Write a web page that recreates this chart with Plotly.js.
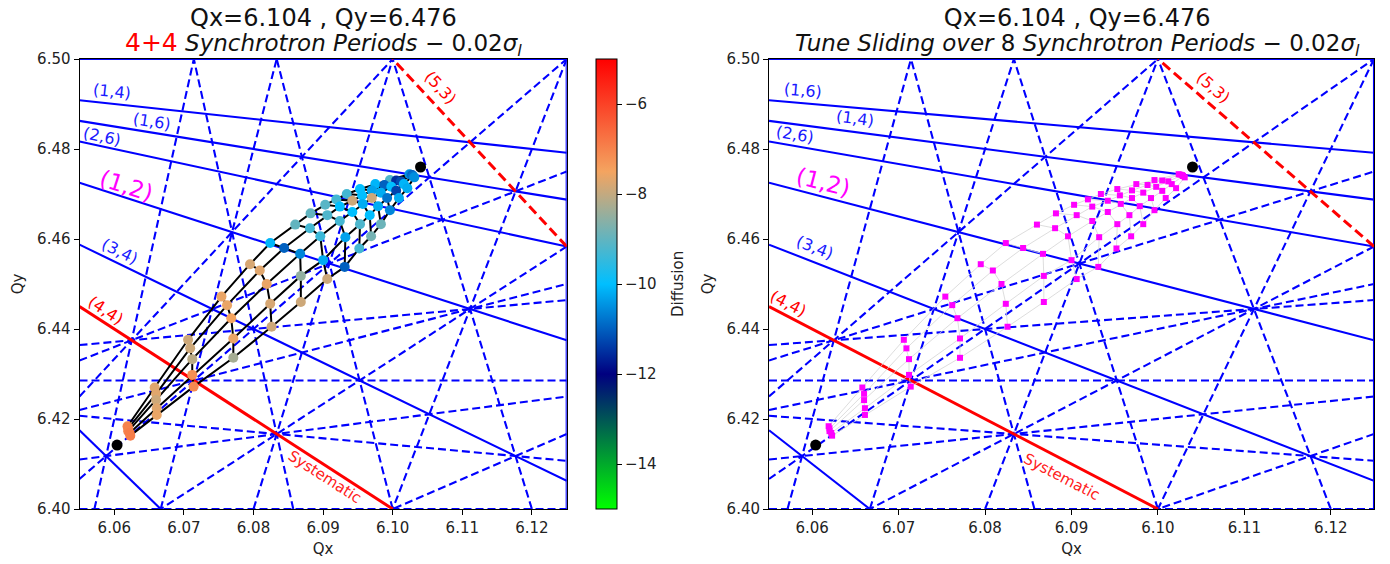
<!DOCTYPE html>
<html>
<head>
<meta charset="utf-8">
<script src="https://cdn.plot.ly/plotly-3.0.1.min.js"></script>
<style>html,body{margin:0;padding:0;background:#fff;}</style>
</head>
<body>
<div id="chart" style="width:1390px;height:564px;"></div>
<script>
// Tune-space window
const qxRange = [6.055, 6.125];
const qyRange = [6.40, 6.50];
const qxTicks = [6.06, 6.07, 6.08, 6.09, 6.10, 6.11, 6.12];
const qyTicks = [6.40, 6.42, 6.44, 6.46, 6.48, 6.50];

// Normal resonances m*Qx + n*Qy = p (solid blue)
const normalM = [1, 1, 2, 1, 3, 3, 0, 8];
const normalN = [6, 4, 6, 2, 4, 2, 2, 0];
const normalP = [45, 32, 51, 19, 44, 31, 13, 49];

// Skew resonances m*Qx + n*Qy = p (dashed blue)
const skewM = [-4, 5, -5, 6, -6, 7, -7, -2, -3, -4, -5, 0, -1, -2, -3, 0, 1, -1];
const skewN = [1, 1, 1, 1, 1, 1, 1, 3, 3, 3, 3, 5, 5, 5, 5, 7, 7, 7];
const skewP = [-18, 37, -24, 43, -30, 49, -36, 7, 1, -5, -11, 32, 26, 20, 14, 45, 51, 39];

// Highlighted resonances (red): systematic 4Qx+4Qy=50 and skew 5Qx+3Qy=50
const systematicMNP = [4, 4, 50];
const skew53MNP = [5, 3, 50];

// Working point and lower reference tune
const markQx = [6.104, 6.0604];
const markQy = [6.476, 6.4142];

// Tune footprint grid: one row per amplitude line, one column per step
const gridQx = [
  [6.0619, 6.0658, 6.0706, 6.0754, 6.0795, 6.0824, 6.0860, 6.0882, 6.0903, 6.0919, 6.0934, 6.0953, 6.0975, 6.0996, 6.1024],
  [6.0620, 6.0660, 6.0709, 6.0762, 6.0809, 6.0844, 6.0881, 6.0906, 6.0924, 6.0942, 6.0956, 6.0970, 6.0988, 6.1005, 6.1026],
  [6.0620, 6.0660, 6.0712, 6.0768, 6.0819, 6.0867, 6.0896, 6.0924, 6.0942, 6.0957, 6.0970, 6.0983, 6.0998, 6.1012, 6.1028],
  [6.0622, 6.0661, 6.0712, 6.0771, 6.0824, 6.0868, 6.0900, 6.0932, 6.0953, 6.0967, 6.0979, 6.0992, 6.1005, 6.1016, 6.1029],
  [6.0623, 6.0661, 6.0714, 6.0771, 6.0826, 6.0868, 6.0906, 6.0931, 6.0952, 6.0969, 6.0983, 6.0996, 6.1009, 6.1021, 6.1031]
];
const gridQy = [
  [6.4184, 6.4270, 6.4376, 6.4472, 6.4544, 6.4591, 6.4632, 6.4657, 6.4676, 6.4688, 6.4700, 6.4711, 6.4722, 6.4731, 6.4744],
  [6.4179, 6.4256, 6.4357, 6.4453, 6.4530, 6.4580, 6.4624, 6.4653, 6.4672, 6.4685, 6.4697, 6.4708, 6.4720, 6.4730, 6.4743],
  [6.4173, 6.4242, 6.4333, 6.4424, 6.4500, 6.4567, 6.4606, 6.4640, 6.4660, 6.4678, 6.4691, 6.4703, 6.4716, 6.4728, 6.4742],
  [6.4169, 6.4224, 6.4298, 6.4379, 6.4456, 6.4518, 6.4553, 6.4604, 6.4633, 6.4653, 6.4673, 6.4691, 6.4707, 6.4722, 6.4740],
  [6.4163, 6.4209, 6.4272, 6.4336, 6.4405, 6.4460, 6.4511, 6.4538, 6.4579, 6.4606, 6.4633, 6.4664, 6.4691, 6.4713, 6.4737]
];
const gridDiffusion = [
  [-7.0, -7.7, -7.9, -7.6, -7.8, -10.1, -9.0, -9.0, -9.1, -9.3, -9.3, -10.0, -10.1, -9.2, -10.4],
  [-7.0, -7.7, -7.9, -7.6, -7.7, -11.0, -9.3, -9.2, -10.0, -7.9, -10.0, -10.3, -11.0, -11.5, -10.6],
  [-7.0, -7.9, -8.1, -7.5, -7.6, -10.6, -9.4, -9.3, -10.0, -10.2, -7.9, -10.2, -10.0, -11.2, -11.0],
  [-6.9, -7.7, -7.2, -7.6, -7.8, -8.5, -10.2, -10.3, -9.2, -10.0, -10.2, -10.8, -11.3, -10.1, -10.8],
  [-6.9, -7.6, -7.1, -8.3, -7.9, -7.9, -7.9, -11.0, -9.3, -8.8, -8.9, -10.6, -10.2, -10.2, -10.5]
];

// Resonance line labels: text, anchor tune, colour, font size, slope of the line it follows
const labelText = ['(1,4)', '(1,6)', '(2,6)', '(1,2)', '(3,4)', '(4,4)', '(5,3)', 'Systematic'];
const labelColor = ['#1a1aff', '#1a1aff', '#1a1aff', '#ff00ff', '#1a1aff', '#ff0000', '#ff0000', '#ff2020'];
const labelSize = [16, 16, 16, 23, 16, 16, 16, 15];
const labelSlope = [1/6, 1/4, 1/3, 1/2, 3/4, 1, 5/3, 1];
const leftLabelQx = [6.05967, 6.06542, 6.05823, 6.06182, 6.06082, 6.05881, 6.10680, 6.09027];
const leftLabelQy = [6.49267, 6.48622, 6.48267, 6.47178, 6.45733, 6.44422, 6.49356, 6.40711];
const rightLabelText = ['(1,6)', '(1,4)', '(2,6)', '(1,2)', '(3,4)', '(4,4)', '(5,3)', 'Systematic'];
const rightLabelSlope = [1/6, 1/4, 1/3, 1/2, 3/4, 1, 5/3, 1];
const rightLabelQx = [6.05893, 6.06495, 6.05801, 6.06125, 6.06032, 6.05720, 6.10637, 6.08890];
const rightLabelQy = [6.49311, 6.48667, 6.48333, 6.47267, 6.45822, 6.44556, 6.49356, 6.40711];

// ---------- page geometry (pixels) ----------
const W = 1390, H = 564;
const plotTop = 59, plotBottom = 509;
const leftBox = [79.5, 566.7];
const rightBox = [769, 1374];
const fx = v => v / W;
const fy = v => 1 - v / H;

const FONT = 'DejaVu Sans, Verdana, sans-serif';
const BLUE = '#0000ff';
const TICK_SIZE = 15;

// Clip a resonance line to the tune window
function clipLine(m, n, p) {
  const eps = 1e-9, pts = [];
  if (n !== 0) {
    for (const x of qxRange) {
      const y = (p - m * x) / n;
      if (y >= qyRange[0] - eps && y <= qyRange[1] + eps) pts.push([x, y]);
    }
  }
  if (m !== 0) {
    for (const y of qyRange) {
      const x = (p - n * y) / m;
      if (x >= qxRange[0] - eps && x <= qxRange[1] + eps) pts.push([x, y]);
    }
  }
  let best = null, bd = -1;
  for (let i = 0; i < pts.length; i++)
    for (let j = i + 1; j < pts.length; j++) {
      const d = Math.hypot(pts[i][0] - pts[j][0], pts[i][1] - pts[j][1]);
      if (d > bd) { bd = d; best = [pts[i], pts[j]]; }
    }
  return best;
}

function resonanceTraces(xa, ya) {
  const out = [];
  const add = (m, n, p, color, width, dash) => {
    const seg = clipLine(m, n, p);
    if (!seg) return;
    out.push({
      x: [seg[0][0], seg[1][0]], y: [seg[0][1], seg[1][1]],
      xaxis: xa, yaxis: ya, mode: 'lines', hoverinfo: 'skip', showlegend: false,
      line: {color: color, width: width, dash: dash}
    });
  };
  skewM.forEach((m, i) => add(m, skewN[i], skewP[i], BLUE, 2.1, '8px,4px'));
  normalM.forEach((m, i) => add(m, normalN[i], normalP[i], BLUE, 2.1, 'solid'));
  add(systematicMNP[0], systematicMNP[1], systematicMNP[2], '#ff0000', 3, 'solid');
  add(skew53MNP[0], skew53MNP[1], skew53MNP[2], '#ff0000', 3, '10px,5px');
  return out;
}

// Rows and columns of the footprint joined into a single polyline with gaps
function gridMesh() {
  const xs = [], ys = [];
  for (let r = 0; r < gridQx.length; r++) {
    xs.push(...gridQx[r], null); ys.push(...gridQy[r], null);
  }
  for (let c = 0; c < gridQx[0].length; c++) {
    for (let r = 0; r < gridQx.length; r++) { xs.push(gridQx[r][c]); ys.push(gridQy[r][c]); }
    xs.push(null); ys.push(null);
  }
  return {xs, ys};
}

const mesh = gridMesh();
const flatQx = gridQx.flat(), flatQy = gridQy.flat(), flatD = gridDiffusion.flat();

const diffusionScale = [
  [0.0, '#00ff00'], [0.3, '#000080'], [0.5, '#00bfff'], [0.75, '#f4a460'], [1.0, '#ff0000']
];

const traces = [
  ...resonanceTraces('x', 'y'),
  {x: mesh.xs, y: mesh.ys, xaxis: 'x', yaxis: 'y', mode: 'lines', connectgaps: false,
   line: {color: '#000000', width: 2}, hoverinfo: 'skip', showlegend: false},
  {x: flatQx, y: flatQy, xaxis: 'x', yaxis: 'y', mode: 'markers', showlegend: false,
   marker: {
     size: 10, color: flatD, colorscale: diffusionScale, cmin: -15, cmax: -5,
     line: {width: 0},
     colorbar: {
       x: fx(596), xanchor: 'left', xpad: 0, ypad: 0,
       y: fy(plotBottom), yanchor: 'bottom', len: (plotBottom - plotTop) / H, lenmode: 'fraction',
       thickness: 21, thicknessmode: 'pixels',
       outlinewidth: 1, outlinecolor: '#000',
       tickvals: [-14, -12, -10, -8, -6], ticktext: ['\u221214', '\u221212', '\u221210', '\u22128', '\u22126'],
       ticks: 'outside', ticklen: 5, tickcolor: '#000',
       tickfont: {family: FONT, size: TICK_SIZE, color: '#222'}
     }
   }},
  {x: markQx, y: markQy, xaxis: 'x', yaxis: 'y', mode: 'markers', showlegend: false,
   marker: {size: 11, color: '#000'}},

  ...resonanceTraces('x2', 'y2'),
  {x: mesh.xs, y: mesh.ys, xaxis: 'x2', yaxis: 'y2', mode: 'lines', connectgaps: false,
   line: {color: '#d4d4d4', width: 0.8}, hoverinfo: 'skip', showlegend: false},
  {x: flatQx, y: flatQy, xaxis: 'x2', yaxis: 'y2', mode: 'markers', showlegend: false,
   marker: {size: 6, symbol: 'square', color: '#ff00ff', line: {width: 0}}},
  {x: markQx, y: markQy, xaxis: 'x2', yaxis: 'y2', mode: 'markers', showlegend: false,
   marker: {size: 11, color: '#000'}}
];

function axisX(domain) {
  return {
    domain: domain, range: qxRange, tickvals: qxTicks, tickformat: '.2f',
    showline: true, mirror: true, linecolor: '#000', linewidth: 1,
    ticks: 'outside', ticklen: 5, tickcolor: '#000', showgrid: false, zeroline: false,
    tickfont: {family: FONT, size: TICK_SIZE, color: '#222'},
    title: {text: 'Qx', standoff: 7, font: {family: FONT, size: TICK_SIZE, color: '#222'}}
  };
}
function axisY(anchor) {
  return {
    domain: [fy(plotBottom), fy(plotTop)], range: qyRange, anchor: anchor,
    tickvals: qyTicks, tickformat: '.2f',
    showline: true, mirror: true, linecolor: '#000', linewidth: 1,
    ticks: 'outside', ticklen: 5, tickcolor: '#000', showgrid: false, zeroline: false,
    tickfont: {family: FONT, size: TICK_SIZE, color: '#222'},
    title: {text: 'Qy', standoff: 9, font: {family: FONT, size: TICK_SIZE, color: '#222'}}
  };
}

// Screen-space angle of a line with data slope -k on a panel
function angleFor(k, boxPx) {
  const sx = (boxPx[1] - boxPx[0]) / (qxRange[1] - qxRange[0]);
  const sy = (plotBottom - plotTop) / (qyRange[1] - qyRange[0]);
  return Math.atan(k * sy / sx) * 180 / Math.PI;
}

const annotations = [];
labelText.forEach((t, i) => {
  annotations.push({x: leftLabelQx[i], y: leftLabelQy[i], xref: 'x', yref: 'y', text: t,
    showarrow: false, textangle: angleFor(labelSlope[i], leftBox),
    font: {family: FONT, size: labelSize[i], color: labelColor[i]}});
});
rightLabelText.forEach((t, i) => {
  annotations.push({x: rightLabelQx[i], y: rightLabelQy[i], xref: 'x2', yref: 'y2', text: t,
    showarrow: false, textangle: angleFor(rightLabelSlope[i], rightBox),
    font: {family: FONT, size: labelSize[i], color: labelColor[i]}});
});

// Two-line panel titles, each drawn as a single text block
const leftMid = (leftBox[0] + leftBox[1]) / 2;
const rightMid = (rightBox[0] + rightBox[1]) / 2;
const headline = '<span style="font-size:24px">Qx=6.104 , Qy=6.476</span>';
const sigmaTail = ' \u2212 0.02<i>\u03c3<sub>l</sub></i>';
annotations.push({x: fx(leftMid), y: fy(2), xref: 'paper', yref: 'paper', showarrow: false,
  xanchor: 'center', yanchor: 'top', align: 'center',
  text: headline + '<br><span style="color:#ff0000;font-size:25px">4+4</span>' +
        '<span style="font-size:23px"> <i>Synchrotron Periods</i>' + sigmaTail + '</span>',
  font: {family: FONT, size: 19, color: '#111'}});
annotations.push({x: fx(rightMid + 6), y: fy(2), xref: 'paper', yref: 'paper', showarrow: false,
  xanchor: 'center', yanchor: 'top', align: 'center',
  text: headline + '<br><span style="font-size:23px"><i>Tune Sliding over </i>8' +
        '<i> Synchrotron Periods</i>' + sigmaTail + '</span>',
  font: {family: FONT, size: 19, color: '#111'}});

// Colour-bar caption
annotations.push({x: fx(678), y: fy((plotTop + plotBottom) / 2), xref: 'paper', yref: 'paper',
  showarrow: false, textangle: -90, text: 'Diffusion', xanchor: 'center', yanchor: 'middle',
  font: {family: FONT, size: TICK_SIZE, color: '#222'}});

const layout = {
  width: W, height: H, margin: {l: 0, r: 0, t: 0, b: 0},
  paper_bgcolor: '#fff', plot_bgcolor: '#fff', showlegend: false,
  font: {family: FONT, color: '#222'},
  xaxis: axisX([fx(leftBox[0]), fx(leftBox[1])]),
  yaxis: axisY('x'),
  xaxis2: axisX([fx(rightBox[0]), fx(rightBox[1])]),
  yaxis2: axisY('x2'),
  annotations: annotations
};
layout.xaxis.anchor = 'y';
layout.xaxis2.anchor = 'y2';

Plotly.newPlot('chart', traces, layout, {staticPlot: true, displayModeBar: false});
</script>
</body>
</html>
